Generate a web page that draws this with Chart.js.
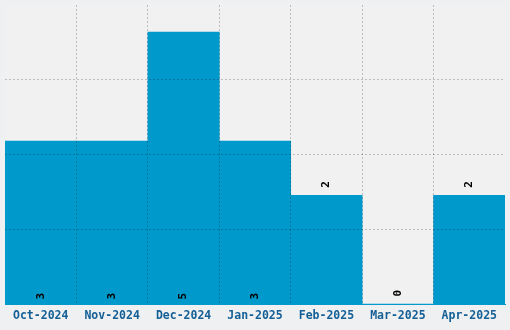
<!DOCTYPE html>
<html>
<head>
<meta charset="utf-8">
<script src="https://cdn.jsdelivr.net/npm/chart.js@4"></script>
<style>
  html, body { margin: 0; padding: 0; background: #eef0f1; }
  #wrap { width: 510px; height: 330px; }
</style>
</head>
<body>
<div id="wrap"><canvas id="c" width="510" height="330"></canvas></div>
<script>
const categories = ["Oct-2024", "Nov-2024", "Dec-2024", "Jan-2025", "Feb-2025", "Mar-2025", "Apr-2025"];
const values = [3, 3, 5, 3, 2, 0, 2];
const yMax = 5.5;
const yStep = 1.375;

const barColor = '#0099cc';
const tickColor = '#135f96';
const gridColor = 'rgba(0,0,0,0.22)';
const clear = 'rgba(0,0,0,0)';

const plotBg = {
  id: 'plotBg',
  beforeDraw(chart) {
    const { ctx, chartArea: a } = chart;
    ctx.save();
    ctx.fillStyle = '#f1f1f1';
    ctx.fillRect(a.left, a.top, a.right - a.left, a.bottom - a.top);
    ctx.restore();
  }
};

const valueLabels = {
  id: 'valueLabels',
  afterDraw(chart) {
    const { ctx } = chart;
    const meta = chart.getDatasetMeta(0);
    ctx.save();
    ctx.fillStyle = '#000';
    ctx.font = 'bold 11px "DejaVu Sans Mono", monospace';
    ctx.textAlign = 'center';
    ctx.textBaseline = 'middle';
    meta.data.forEach((bar, i) => {
      const v = values[i];
      const y = v >= 3 ? bar.base - 7.5 : bar.y - 11;
      ctx.save();
      ctx.translate(bar.x, y);
      ctx.rotate(-Math.PI / 2);
      ctx.fillText(String(v), 0, 0);
      ctx.restore();
    });
    ctx.restore();
  }
};

new Chart(document.getElementById('c'), {
  type: 'bar',
  data: {
    labels: categories,
    datasets: [{
      data: values,
      backgroundColor: barColor,
      borderWidth: 0,
      barPercentage: 1,
      categoryPercentage: 1
    }]
  },
  options: {
    responsive: false,
    animation: false,
    devicePixelRatio: 1,
    layout: { padding: { left: 5, right: 5, top: 5, bottom: 2 } },
    plugins: { legend: { display: false }, tooltip: { enabled: false } },
    scales: {
      x: {
        offset: true,
        grid: {
          z: 1,
          offset: true,
          color: (c) => (c.type !== 'tick' || c.index === 0 ? clear : gridColor),
          drawTicks: false,
          lineWidth: 1
        },
        border: { display: true, color: barColor, width: 1, dash: [2, 2], z: 1 },
        ticks: {
          color: tickColor,
          font: { family: '"DejaVu Sans Mono", monospace', weight: 'bold', size: 11.5 },
          padding: 5,
          maxRotation: 0,
          autoSkip: false
        }
      },
      y: {
        min: 0,
        max: yMax,
        ticks: { display: false, stepSize: yStep },
        grid: {
          z: 1,
          color: (c) => (c.type !== 'tick' || c.tick.value <= 1e-9 || c.tick.value >= yMax - 1e-9 ? clear : gridColor),
          drawTicks: false,
          lineWidth: 1
        },
        border: { display: false, dash: [2, 2] }
      }
    }
  },
  plugins: [plotBg, valueLabels]
});
</script>
</body>
</html>
